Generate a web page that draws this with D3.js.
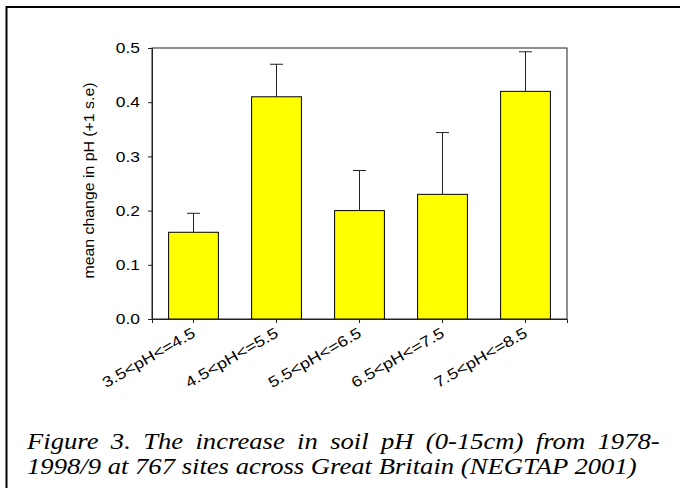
<!DOCTYPE html>
<html lang="en">
<head>
    <meta charset="UTF-8">
    <script src="https://cdn.jsdelivr.net/npm/d3@7"></script>
    <title>Soil pH change</title>
    <style>
        body {
            margin: 0;
            background: #fff;
        }
    </style>
</head>
<body>
<svg width="680" height="488"></svg>
<script>
    var categories = ["3.5<pH<=4.5", "4.5<pH<=5.5", "5.5<pH<=6.5", "6.5<pH<=7.5", "7.5<pH<=8.5"];
    var means = [0.16, 0.41, 0.20, 0.23, 0.42];
    var stdErr = [0.035, 0.06, 0.074, 0.114, 0.073];
    var yTicks = [0, 0.1, 0.2, 0.3, 0.4, 0.5];
    var yTitle = "mean change in pH (+1 s.e)";
    var captionLines = [
        "Figure 3. The increase in soil pH (0-15cm) from 1978-",
        "1998/9 at 767 sites across Great Britain (NEGTAP 2001)"
    ];

    var svg = d3.select("svg");
    var plot = {left: 152, right: 567, top: 48, bottom: 319};
    var stretch = 1.2;   // the original figure is widened horizontally
    var sans = "'Liberation Sans'";
    var serif = "'Liberation Serif'";

    // widen text along its baseline like the pasted picture
    function widen(sel, k) {
        sel.each(function () {
            var w = this.getComputedTextLength();
            d3.select(this)
                .attr("textLength", w * k)
                .attr("lengthAdjust", "spacingAndGlyphs");
        });
    }

    // outer page border (top and left edge)
    svg.append("path")
        .attr("d", "M6.5,500V7H690")
        .attr("fill", "none")
        .attr("stroke", "#000")
        .attr("stroke-width", 2);

    var x = d3.scaleBand()
        .domain(categories)
        .range([plot.left, plot.right])
        .paddingInner(0.4)
        .paddingOuter(0.2);

    var y = d3.scaleLinear()
        .domain([0, 0.5])
        .range([plot.bottom, plot.top]);

    // frame
    svg.append("rect")
        .attr("x", plot.left)
        .attr("y", plot.top)
        .attr("width", plot.right - plot.left)
        .attr("height", plot.bottom - plot.top)
        .attr("fill", "none")
        .attr("stroke", "#222")
        .attr("stroke-width", 1);

    // error bars (upper only)
    var capW = 13;
    var err = svg.append("g").attr("stroke", "#222").attr("stroke-width", 1);
    err.selectAll("line.stem")
        .data(means)
        .enter()
        .append("line")
        .attr("x1", function (d, i) { return x(categories[i]) + x.bandwidth() / 2; })
        .attr("x2", function (d, i) { return x(categories[i]) + x.bandwidth() / 2; })
        .attr("y1", function (d) { return y(d); })
        .attr("y2", function (d, i) { return y(d + stdErr[i]); });
    err.selectAll("line.cap")
        .data(means)
        .enter()
        .append("line")
        .attr("x1", function (d, i) { return x(categories[i]) + x.bandwidth() / 2 - capW / 2; })
        .attr("x2", function (d, i) { return x(categories[i]) + x.bandwidth() / 2 + capW / 2; })
        .attr("y1", function (d, i) { return y(d + stdErr[i]); })
        .attr("y2", function (d, i) { return y(d + stdErr[i]); });

    // bars
    svg.selectAll("rect.bar")
        .data(means)
        .enter()
        .append("rect")
        .attr("class", "bar")
        .attr("x", function (d, i) { return x(categories[i]); })
        .attr("y", function (d) { return y(d); })
        .attr("width", x.bandwidth())
        .attr("height", function (d) { return y(0) - y(d); })
        .attr("fill", "#ffff00")
        .attr("stroke", "#000")
        .attr("stroke-width", 1);

    // y axis
    var yAxis = svg.append("g")
        .attr("transform", "translate(" + plot.left + ",0)")
        .call(d3.axisLeft(y).tickValues(yTicks).tickFormat(d3.format(".1f")).tickSize(4).tickPadding(8));
    yAxis.select(".domain").attr("stroke", "#222");
    yAxis.selectAll(".tick line").attr("stroke", "#222");
    yAxis.selectAll("text")
        .style("font-family", sans)
        .style("font-size", "14.5px")
        .attr("fill", "#000")
        .call(widen, stretch);

    // x axis
    var xAxis = svg.append("g")
        .attr("transform", "translate(0," + plot.bottom + ")")
        .call(d3.axisBottom(x).tickSize(4).tickFormat(""));
    xAxis.select(".domain").attr("stroke", "#222");
    xAxis.selectAll(".tick line").attr("stroke", "#222");

    svg.append("g")
        .selectAll("text")
        .data(categories)
        .enter()
        .append("text")
        .style("font-family", sans)
        .style("font-size", "15px")
        .attr("transform", function (d) {
            return "translate(" + (x(d) + x.bandwidth() / 2 + 3) + "," + (plot.bottom + 17) + ") rotate(-30)";
        })
        .attr("text-anchor", "end")
        .text(function (d) { return d; })
        .call(widen, stretch);

    svg.append("text")
        .attr("transform", "translate(94," + ((plot.top + plot.bottom) / 2 - 3) + ") rotate(-90)")
        .attr("text-anchor", "middle")
        .style("font-family", sans)
        .style("font-size", "14px")
        .text(yTitle)
        .attr("textLength", 196)
        .attr("lengthAdjust", "spacingAndGlyphs");

    // caption: justified first line, free second line
    var capLeft = 27, capRight = 660, line2Width = 610;
    var cap = svg.append("g");
    var l2 = cap.append("text")
        .style("font-family", serif)
        .style("font-style", "italic")
        .style("font-size", "23.5px")
        .text(captionLines[1]);
    var k = line2Width / l2.node().getComputedTextLength();
    var l1 = cap.append("text")
        .style("font-family", serif)
        .style("font-style", "italic")
        .style("font-size", "23.5px")
        .text(captionLines[0]);
    var nSpaces = captionLines[0].split(" ").length - 1;
    var extra = ((capRight - capLeft) / k - l1.node().getComputedTextLength()) / nSpaces;
    l1.style("word-spacing", extra + "px")
        .attr("transform", "translate(" + capLeft + ",449) scale(" + k + ",1)");
    l2.attr("transform", "translate(" + capLeft + ",474) scale(" + k + ",1)");
</script>
</body>
</html>
